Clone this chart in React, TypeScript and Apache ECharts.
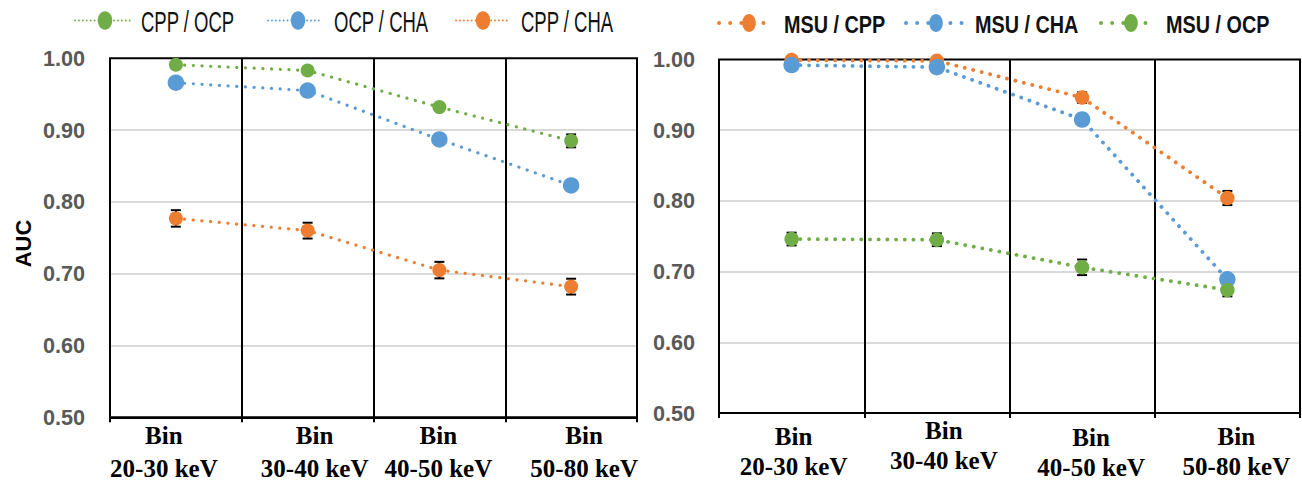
import React, { useEffect, useRef } from "react";
import * as echarts from "echarts";

// ---------- data ----------
const categories = ["Bin\n20-30 keV", "Bin\n30-40 keV", "Bin\n40-50 keV", "Bin\n50-80 keV"];

const leftNames = ["CPP / OCP", "OCP / CHA", "CPP / CHA"];
const cppOcp = [0.991, 0.983, 0.932, 0.885];
const ocpCha = [0.966, 0.955, 0.887, 0.823];
const cppCha = [0.777, 0.76, 0.705, 0.682];
const cppOcpErr = [0.004, 0.004, 0.004, 0.009];
const ocpChaErr = [0.003, 0.003, 0.003, 0.003];
const cppChaErr = [0.0115, 0.011, 0.0115, 0.011];

const rightNames = ["MSU / CPP", "MSU / CHA", "MSU / OCP"];
const msuCpp = [0.999, 0.998, 0.946, 0.804];
const msuCha = [0.992, 0.989, 0.915, 0.689];
const msuOcp = [0.746, 0.745, 0.706, 0.674];
const msuCppErr = [0.004, 0.004, 0.0075, 0.01];
const msuChaErr = [0.003, 0.003, 0.003, 0.003];
const msuOcpErr = [0.009, 0.009, 0.011, 0.009];

const yMin = 0.5;
const yMax = 1.0;
const yStep = 0.1;

// ---------- styling ----------
const GREEN = "#70AD47";
const BLUE = "#5B9BD5";
const ORANGE = "#ED7D31";

// label shifts (layout only)
const leftLabelPad = [
  [0, 24, 0, 0],
  [0, 0, 0, 14],
  [0, 2, 0, 0],
  [0, 0, 0, 26],
];
const rightLabelPad = [
  [6, 0, 0, 4],
  [0, 0, 0, 14],
  [7, 0, 0, 18],
  [6, 0, 0, 18],
];

const leftLegendPos = [
  [75, 131, 105, 141],
  [268, 322, 298, 334],
  [456, 510, 483, 521],
];
const rightLegendPos = [
  [719, 773, 749, 784],
  [906, 962, 936, 975],
  [1101, 1155, 1131, 1166],
];

function errorSeries(idx: number, values: number[], errs: number[]) {
  return {
    type: "custom",
    xAxisIndex: idx,
    yAxisIndex: idx,
    z: 1,
    silent: true,
    data: values.map((v, i) => [i, v - errs[i], v + errs[i]]),
    renderItem: (params: any, api: any) => {
      const x = api.value(0);
      const lo = api.coord([x, api.value(1)]);
      const hi = api.coord([x, api.value(2)]);
      const hw = 5;
      const style = { stroke: "#000", lineWidth: 2 };
      return {
        type: "group",
        children: [
          { type: "line", shape: { x1: lo[0], y1: lo[1], x2: hi[0], y2: hi[1] }, style },
          { type: "line", shape: { x1: lo[0] - hw, y1: lo[1], x2: lo[0] + hw, y2: lo[1] }, style },
          { type: "line", shape: { x1: hi[0] - hw, y1: hi[1], x2: hi[0] + hw, y2: hi[1] }, style },
        ],
      };
    },
  };
}

function lineSeries(idx: number, name: string, values: number[], color: string, size: number, lw: number) {
  return {
    type: "line",
    name,
    xAxisIndex: idx,
    yAxisIndex: idx,
    data: values,
    symbol: "circle",
    symbolSize: size,
    z: 3,
    itemStyle: { color },
    lineStyle: { color, width: lw, type: [0.1, 8.6], cap: "round" },
    clip: false,
  };
}

function legendGraphics(
  names: string[],
  colors: string[],
  pos: number[][],
  yMarker: number,
  yText: number,
  opts: { dot: number; gap: number; rx: number; ry: number; font: string; scaleY: number }
) {
  const out: any[] = [];
  names.forEach((n, i) => {
    const [x1, x2, mx, tx] = pos[i];
    out.push({
      type: "line",
      shape: { x1, y1: yMarker, x2, y2: yMarker },
      style: { stroke: colors[i], lineWidth: opts.dot, lineDash: [0.1, opts.gap], lineCap: "round" },
    });
    out.push({
      type: "ellipse",
      shape: { cx: mx, cy: yMarker, rx: opts.rx, ry: opts.ry },
      style: { fill: colors[i] },
    });
    out.push({
      type: "text",
      x: tx,
      y: yText,
      scaleY: opts.scaleY,
      style: { text: n, font: opts.font, fill: "#111", align: "left", verticalAlign: "middle" },
    });
  });
  return out;
}

const SERIF = "'Liberation Serif', 'Times New Roman', serif";

function xAxisCfg(idx: number, pads: number[][], h1: number, h2: number, margin: number) {
  const base = { fontFamily: SERIF, fontWeight: "bold", fontSize: 25, color: "#000" };
  return {
    type: "category",
    gridIndex: idx,
    data: categories.map((c, i) => ({ value: c, textStyle: { padding: pads[i] } })),
    boundaryGap: true,
    axisLine: { show: true, lineStyle: { color: "#000", width: 2 } },
    axisTick: { show: true, length: 5, lineStyle: { color: "#000", width: 2 } },
    splitLine: { show: true, lineStyle: { color: "#000", width: 2 } },
    axisLabel: {
      interval: 0,
      margin,
      ...base,
      formatter: (v: string) => {
        const [a, b] = v.split("\n");
        return `{a|${a}}\n{b|${b}}`;
      },
      rich: {
        a: { ...base, lineHeight: h1 },
        b: { ...base, lineHeight: h2 },
      },
    },
  };
}

function yAxisCfg(idx: number, margin: number) {
  return {
    type: "value",
    gridIndex: idx,
    min: yMin,
    max: yMax,
    interval: yStep,
    axisLine: { show: false },
    axisTick: { show: false },
    splitLine: {
      show: true,
      showMinLine: false,
      showMaxLine: false,
      lineStyle: { color: "#D9D9D9", width: 2 },
    },
    axisLabel: {
      margin,
      color: "#595959",
      fontFamily: "'Liberation Sans', Arial, sans-serif",
      fontWeight: "bold",
      fontSize: 21.6,
      formatter: (v: number) => v.toFixed(2),
    },
  };
}

export default function App() {
  const ref = useRef<HTMLDivElement>(null);
  useEffect(() => {
    if (!ref.current) return;
    const chart = echarts.init(ref.current, undefined, { renderer: "svg" });
    const option: any = {
      animation: false,
      backgroundColor: "#fff",
      grid: [
        {
          left: 110, top: 58.3, width: 527, height: 359,
          show: true, borderColor: "#000", borderWidth: 2,
          containLabel: false, outerBoundsMode: "none",
        },
        {
          left: 719, top: 59.4, width: 581, height: 353.6,
          show: true, borderColor: "#000", borderWidth: 2,
          containLabel: false, outerBoundsMode: "none",
        },
      ],
      xAxis: [xAxisCfg(0, leftLabelPad, 44.8, 22, -4.1), xAxisCfg(1, rightLabelPad, 36, 24, -1)],
      yAxis: [yAxisCfg(0, 25), yAxisCfg(1, 24)],
      series: [
        errorSeries(0, cppOcp, cppOcpErr),
        errorSeries(0, ocpCha, ocpChaErr),
        errorSeries(0, cppCha, cppChaErr),
        lineSeries(0, leftNames[0], cppOcp, GREEN, 14, 3.2),
        lineSeries(0, leftNames[1], ocpCha, BLUE, 16.5, 3.2),
        lineSeries(0, leftNames[2], cppCha, ORANGE, 14, 3.2),
        errorSeries(1, msuCpp, msuCppErr),
        errorSeries(1, msuCha, msuChaErr),
        errorSeries(1, msuOcp, msuOcpErr),
        lineSeries(1, rightNames[0], msuCpp, ORANGE, 14.5, 3.8),
        lineSeries(1, rightNames[1], msuCha, BLUE, 16.5, 3.8),
        lineSeries(1, rightNames[2], msuOcp, GREEN, 14.5, 3.8),
      ],
      graphic: [
        {
          type: "text",
          x: 23,
          y: 243.5,
          rotation: Math.PI / 2,
          style: {
            text: "AUC",
            font: "bold 22px 'Liberation Sans', Arial, sans-serif",
            fill: "#000",
            align: "center",
            verticalAlign: "middle",
          },
        },
        ...legendGraphics(leftNames, [GREEN, BLUE, ORANGE], leftLegendPos, 20.5, 21.5, {
          dot: 1.8,
          gap: 3.8,
          rx: 7.2,
          ry: 9.2,
          font: "18.5px 'Liberation Sans', Arial, sans-serif",
          scaleY: 1.55,
        }),
        ...legendGraphics(rightNames, [ORANGE, BLUE, GREEN], rightLegendPos, 23, 24.3, {
          dot: 3.8,
          gap: 11,
          rx: 6.8,
          ry: 9,
          font: "bold 19.8px 'Liberation Sans', Arial, sans-serif",
          scaleY: 1.23,
        }),
      ],
    };
    chart.setOption(option);
    return () => chart.dispose();
  }, []);
  return (
    <div
      ref={ref}
      style={{ position: "absolute", left: 0, top: 0, width: 1302, height: 482 }}
    />
  );
}
